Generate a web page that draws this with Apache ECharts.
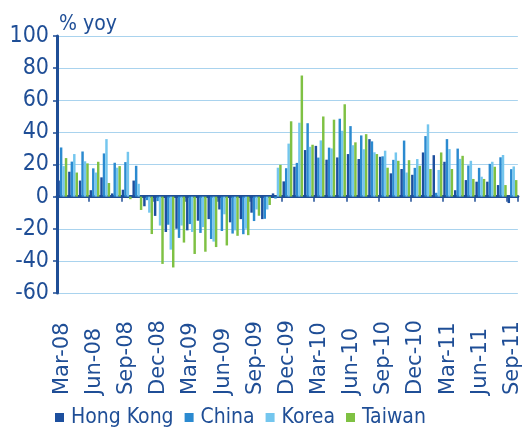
<!DOCTYPE html>
<html>
<head>
<meta charset="utf-8">
<script src="https://cdn.jsdelivr.net/npm/echarts@6/dist/echarts.min.js"></script>
<style>
html,body{margin:0;padding:0;background:#fff;}
#c{width:523px;height:430px;}
</style>
</head>
<body>
<div id="c"></div>
<script>
var categories = ['Mar-08','Apr-08','May-08','Jun-08','Jul-08','Aug-08','Sep-08','Oct-08','Nov-08','Dec-08',
  'Jan-09','Feb-09','Mar-09','Apr-09','May-09','Jun-09','Jul-09','Aug-09','Sep-09','Oct-09','Nov-09','Dec-09',
  'Jan-10','Feb-10','Mar-10','Apr-10','May-10','Jun-10','Jul-10','Aug-10','Sep-10','Oct-10','Nov-10','Dec-10',
  'Jan-11','Feb-11','Mar-11','Apr-11','May-11','Jun-11','Jul-11','Aug-11','Sep-11'];
var hongKong = [10, 15.5, 10, 4, 12, 2, 4.3, 10, -6, -12, -22, -20, -21, -15, -14, -8, -16, -14, -10, -14,
  2, 9.5, 18.6, 29, 31.6, 23, 24.4, 26.5, 23.4, 35.8, 24.8, 14.5, 17.2, 13.6, 27.5, 25.8, 21.7, 4, 10.3, 9.3, 9.3, 7.2, -4];
var china = [30.6, 21.8, 28.1, 17.6, 26.9, 21.1, 21.5, 19.2, -2.2, -2.8, -17.5, -25.7, -17.1, -22.6, -26.4, -21.4, -23.0, -23.4, -15.2, -13.8,
  -1.2, 17.7, 21.0, 45.7, 24.3, 30.5, 48.5, 43.9, 38.1, 34.4, 25.1, 22.9, 34.9, 17.9, 37.7, 2.4, 35.8, 29.9, 19.4, 17.9, 20.4, 24.5, 17.1];
var korea = [19, 26.5, 22, 15, 35.8, 18, 27.9, 8, -10, -18, -33, -18, -22, -19, -28, -11, -21, -20, -8, -8,
  18, 33, 46, 31, 35, 30, 41, 32, 29.5, 27.6, 28.6, 27.5, 15, 23.4, 45, 16.6, 29.6, 23.5, 22.3, 12.4, 21.7, 25.9, 18.8];
var taiwan = [24, 15, 20.7, 21.7, 8.5, 19, -1.6, -8.3, -23.3, -41.9, -44.1, -28.6, -35.7, -34.3, -31.4, -30.4, -24.4, -24.0, -11.9, -5.2,
  19.8, 46.9, 75.4, 32.3, 49.9, 47.9, 57.5, 33.8, 38.9, 26.5, 18, 22.3, 22.7, 19.2, 17.2, 27.5, 17.2, 25.4, 11, 11, 18.6, 7.2, 10.3];
var seriesNames = ['Hong Kong', 'China', 'Korea', 'Taiwan'];
var yTicks = {min: -60, max: 100, interval: 20};

var navy = '#1f4e96';
var narrow = "'DejaVu Sans Condensed','Liberation Sans',sans-serif";
var chart = echarts.init(document.getElementById('c'), null, {renderer: 'canvas'});
var colors = ['#1d4f9e', '#2b8ad0', '#74c6ee', '#7fc143'];
var datas = [hongKong, china, korea, taiwan];
chart.setOption({
  animation: false,
  color: colors,
  grid: {left: 57, right: 5, top: 36, bottom: 137, containLabel: false},
  legend: {
    data: seriesNames, left: 50, top: 402, icon: 'rect', itemWidth: 9, itemHeight: 9, itemGap: 11,
    textStyle: {fontFamily: narrow, fontSize: 21, color: navy, padding: [0, 0, 0, 2]}
  },
  xAxis: [{
    type: 'category', data: categories, position: 'bottom',
    axisLine: {show: false, onZero: false}, axisTick: {show: false},
    axisLabel: {interval: 2, rotate: 90, align: 'left', margin: 102,
      fontFamily: "'DejaVu Sans',sans-serif", fontSize: 21, color: navy}
  }, {
    type: 'category', data: categories, position: 'bottom',
    axisLine: {show: true, onZero: true, lineStyle: {color: navy, width: 3}},
    axisTick: {show: true, interval: 2, length: 5, lineStyle: {color: navy, width: 1.5}},
    axisLabel: {show: false}
  }],
  yAxis: {
    type: 'value', min: yTicks.min, max: yTicks.max, interval: yTicks.interval,
    name: '% yoy', nameLocation: 'end', nameGap: 1,
    nameTextStyle: {fontFamily: narrow, fontSize: 21, color: navy, align: 'left', padding: [0, 0, 0, 2]},
    axisLine: {show: true, lineStyle: {color: navy, width: 3}},
    axisTick: {show: true, length: 4, lineStyle: {color: navy, width: 1.5}},
    axisLabel: {fontFamily: narrow, fontSize: 23, color: navy, margin: 8},
    splitLine: {show: true, lineStyle: {color: '#a9d3ee', width: 1}}
  },
  series: seriesNames.map(function (n, i) {
    return {name: n, type: 'bar', xAxisIndex: 0, data: datas[i], barGap: '0%', barCategoryGap: '8%', z: 1};
  })
});
</script>
</body>
</html>
